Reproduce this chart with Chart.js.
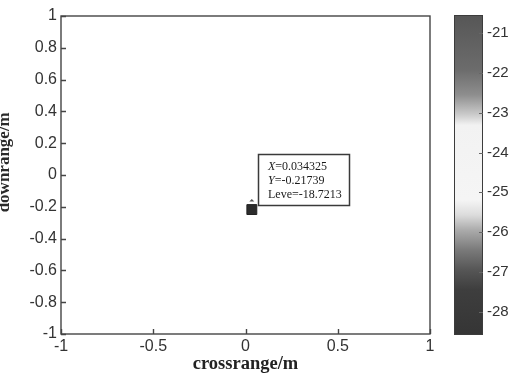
<!DOCTYPE html>
<html>
<head>
<meta charset="utf-8">
<script src="https://cdn.jsdelivr.net/npm/chart.js@4/dist/chart.umd.min.js"></script>
<style>
  html, body { margin: 0; padding: 0; background: #fff; }
  #wrap { position: relative; width: 512px; height: 376px; overflow: hidden; }
  #main { position: absolute; left: 0; top: 0; }
  #cbar { position: absolute; left: 440px; top: 0; }
</style>
</head>
<body>
<div id="wrap">
  <canvas id="main" width="440" height="376"></canvas>
  <canvas id="cbar" width="72" height="376"></canvas>
</div>
<script>
// Detected target: position and level
const targetX = [0.034325];
const targetY = [-0.21739];
const targetLevel = [-18.7213];

// Axis ticks
const xTicks = [-1, -0.5, 0, 0.5, 1];
const xTickLabels = ['-1', '-0.5', '0', '0.5', '1'];
const yTicks = [1, 0.8, 0.6, 0.4, 0.2, 0, -0.2, -0.4, -0.6, -0.8, -1];
const yTickLabels = ['1', '0.8', '0.6', '0.4', '0.2', '0', '-0.2', '-0.4', '-0.6', '-0.8', '-1'];

// Colour bar range, ticks and grey colour map stops
const cbMin = -28.59;
const cbMax = -20.54;
const cbTicks = [-21, -22, -23, -24, -25, -26, -27, -28];
const cbTickLabels = ['-21', '-22', '-23', '-24', '-25', '-26', '-27', '-28'];
const cbStops = [-20.54, -21.92, -22.55, -23.05, -23.31, -25.19, -25.57, -25.95, -26.45, -26.95, -27.45, -28.59];
const cbGrays = ['#565656', '#6c6c6c', '#8e8e8e', '#cbcbcb', '#f2f2f2', '#f5f5f5', '#dcdcdc', '#ababab', '#7a7a7a', '#565656', '#3e3e3e', '#353535'];

const AXIS = '#454545';
const TXT = '#333333';

// Box around the plot area plus inward tick marks on the left and bottom
const frameMarks = {
  id: 'frameMarks',
  afterDraw(chart) {
    const { ctx, chartArea: a, scales } = chart;
    ctx.save();
    ctx.strokeStyle = AXIS;
    ctx.lineWidth = 1.4;
    ctx.strokeRect(a.left, a.top, a.right - a.left, a.bottom - a.top);
    ctx.beginPath();
    yTicks.forEach(v => {
      const y = Math.round(scales.y.getPixelForValue(v)) + 0.5;
      ctx.moveTo(a.left, y); ctx.lineTo(a.left + 5, y);
    });
    xTicks.forEach(v => {
      const x = Math.round(scales.x.getPixelForValue(v)) + 0.5;
      ctx.moveTo(x, a.bottom); ctx.lineTo(x, a.bottom - 5);
    });
    ctx.stroke();

    // vertical axis title, set slightly above the plot's middle
    ctx.translate(9, scales.y.getPixelForValue(0.08));
    ctx.rotate(-Math.PI / 2);
    ctx.fillStyle = '#2a2a2a';
    ctx.font = 'bold 17px "Liberation Serif", "Times New Roman", serif';
    ctx.textAlign = 'center';
    ctx.textBaseline = 'alphabetic';
    ctx.fillText('downrange/m', 0, 0);
    ctx.restore();
  }
};

// Data tip next to the target marker
const dataTip = {
  id: 'dataTip',
  afterDatasetsDraw(chart) {
    const { ctx, scales } = chart;
    const px = scales.x.getPixelForValue(targetX[0]);
    const py = scales.y.getPixelForValue(targetY[0]);
    // small caret above the marker
    ctx.save();
    ctx.fillStyle = '#555';
    ctx.beginPath();
    ctx.moveTo(px - 2.5, py - 8);
    ctx.lineTo(px, py - 10.5);
    ctx.lineTo(px + 2.5, py - 8);
    ctx.closePath();
    ctx.fill();

    const bx = Math.round(px + 6) + 0.5;
    const by = Math.round(py - 56) + 0.5;
    const bw = 91, bh = 51;
    ctx.fillStyle = '#fff';
    ctx.fillRect(bx, by, bw, bh);
    ctx.strokeStyle = '#3a3a3a';
    ctx.lineWidth = 1.5;
    ctx.strokeRect(bx, by, bw, bh);

    const lines = [
      ['X', '=' + String(targetX[0])],
      ['Y', '=' + String(targetY[0])],
      ['', 'Leve=' + String(targetLevel[0])]
    ];
    const base = [15.5, 29.5, 43];
    ctx.fillStyle = '#1a1a1a';
    ctx.textBaseline = 'alphabetic';
    ctx.textAlign = 'left';
    lines.forEach((ln, i) => {
      let x = bx + 9.5;
      const y = by + base[i];
      if (ln[0]) {
        ctx.font = 'italic 12px "Liberation Serif", serif';
        ctx.fillText(ln[0], x, y);
        x += ctx.measureText(ln[0]).width;
      }
      ctx.font = '12px "Liberation Serif", serif';
      ctx.fillText(ln[1], x, y);
    });
    ctx.restore();
  }
};

new Chart(document.getElementById('main'), {
  type: 'scatter',
  data: {
    datasets: [{
      data: targetX.map((x, i) => ({ x, y: targetY[i] })),
      pointStyle: 'rect',
      pointRadius: 7,
      backgroundColor: '#2c2c2c',
      borderColor: '#222',
      borderWidth: 1
    }]
  },
  options: {
    responsive: false,
    animation: false,
    events: [],
    layout: { padding: { left: 0, right: 10, top: 16, bottom: 0 } },
    plugins: { legend: { display: false }, tooltip: { enabled: false } },
    scales: {
      x: {
        type: 'linear', min: -1, max: 1,
        grid: { display: false, drawTicks: false },
        border: { display: false },
        afterBuildTicks: s => { s.ticks = xTicks.map(v => ({ value: v })); },
        afterFit: s => { s.height = 42; },
        ticks: {
          color: TXT, padding: 3, maxRotation: 0, autoSkip: false,
          font: { family: '"Liberation Sans", Arial, sans-serif', size: 16 },
          callback: (v, i) => xTickLabels[i]
        },
        title: {
          display: true, text: 'crossrange/m', color: '#222',
          padding: { top: 0, bottom: 1 },
          font: { family: '"Liberation Serif", "Times New Roman", serif', size: 18.5, weight: 'bold' }
        }
      },
      y: {
        type: 'linear', min: -1, max: 1,
        grid: { display: false, drawTicks: false },
        border: { display: false },
        afterBuildTicks: s => { s.ticks = yTicks.map(v => ({ value: v })); },
        afterFit: s => { s.width = 61; },
        ticks: {
          color: TXT, padding: 4, autoSkip: false,
          font: { family: '"Liberation Sans", Arial, sans-serif', size: 16 },
          callback: (v, i) => yTickLabels[i]
        }
      }
    }
  },
  plugins: [frameMarks, dataTip]
});

// Colour bar: one floating bar spanning the level range, shaded along the level scale
function cbGradient(context) {
  const chart = context.chart;
  const a = chart.chartArea;
  if (!a) return '#888';
  const ys = chart.scales.y;
  const g = chart.ctx.createLinearGradient(0, ys.getPixelForValue(cbMax), 0, ys.getPixelForValue(cbMin));
  cbStops.forEach((v, i) => {
    g.addColorStop((cbMax - v) / (cbMax - cbMin), cbGrays[i]);
  });
  return g;
}

const cbFrame = {
  id: 'cbFrame',
  afterDraw(chart) {
    const { ctx, chartArea: a, scales } = chart;
    ctx.save();
    ctx.strokeStyle = '#3c3c3c';
    ctx.lineWidth = 1;
    ctx.strokeRect(a.left + 0.5, a.top + 0.5, a.right - a.left - 1, a.bottom - a.top - 1);
    ctx.strokeStyle = '#666';
    ctx.beginPath();
    cbTicks.forEach(v => {
      const y = Math.round(scales.y.getPixelForValue(v)) + 0.5;
      ctx.moveTo(a.right, y); ctx.lineTo(a.right - 4, y);
    });
    ctx.stroke();
    ctx.restore();
  }
};

new Chart(document.getElementById('cbar'), {
  type: 'bar',
  data: {
    labels: ['level'],
    datasets: [{
      data: [[cbMin, cbMax]],
      backgroundColor: cbGradient,
      borderWidth: 0,
      barPercentage: 1,
      categoryPercentage: 1
    }]
  },
  options: {
    responsive: false,
    animation: false,
    events: [],
    layout: { padding: { left: 14, right: 0, top: 15, bottom: 41 } },
    plugins: { legend: { display: false }, tooltip: { enabled: false } },
    scales: {
      x: { display: false },
      y: {
        position: 'right', min: cbMin, max: cbMax,
        grid: { display: false, drawTicks: false },
        border: { display: false },
        afterBuildTicks: s => { s.ticks = cbTicks.map(v => ({ value: v })); },
        afterFit: s => { s.width = 29; },
        ticks: {
          color: TXT, padding: 4, autoSkip: false,
          font: { family: '"Liberation Sans", Arial, sans-serif', size: 15 },
          callback: (v, i) => cbTickLabels[i]
        }
      }
    }
  },
  plugins: [cbFrame]
});
</script>
</body>
</html>
